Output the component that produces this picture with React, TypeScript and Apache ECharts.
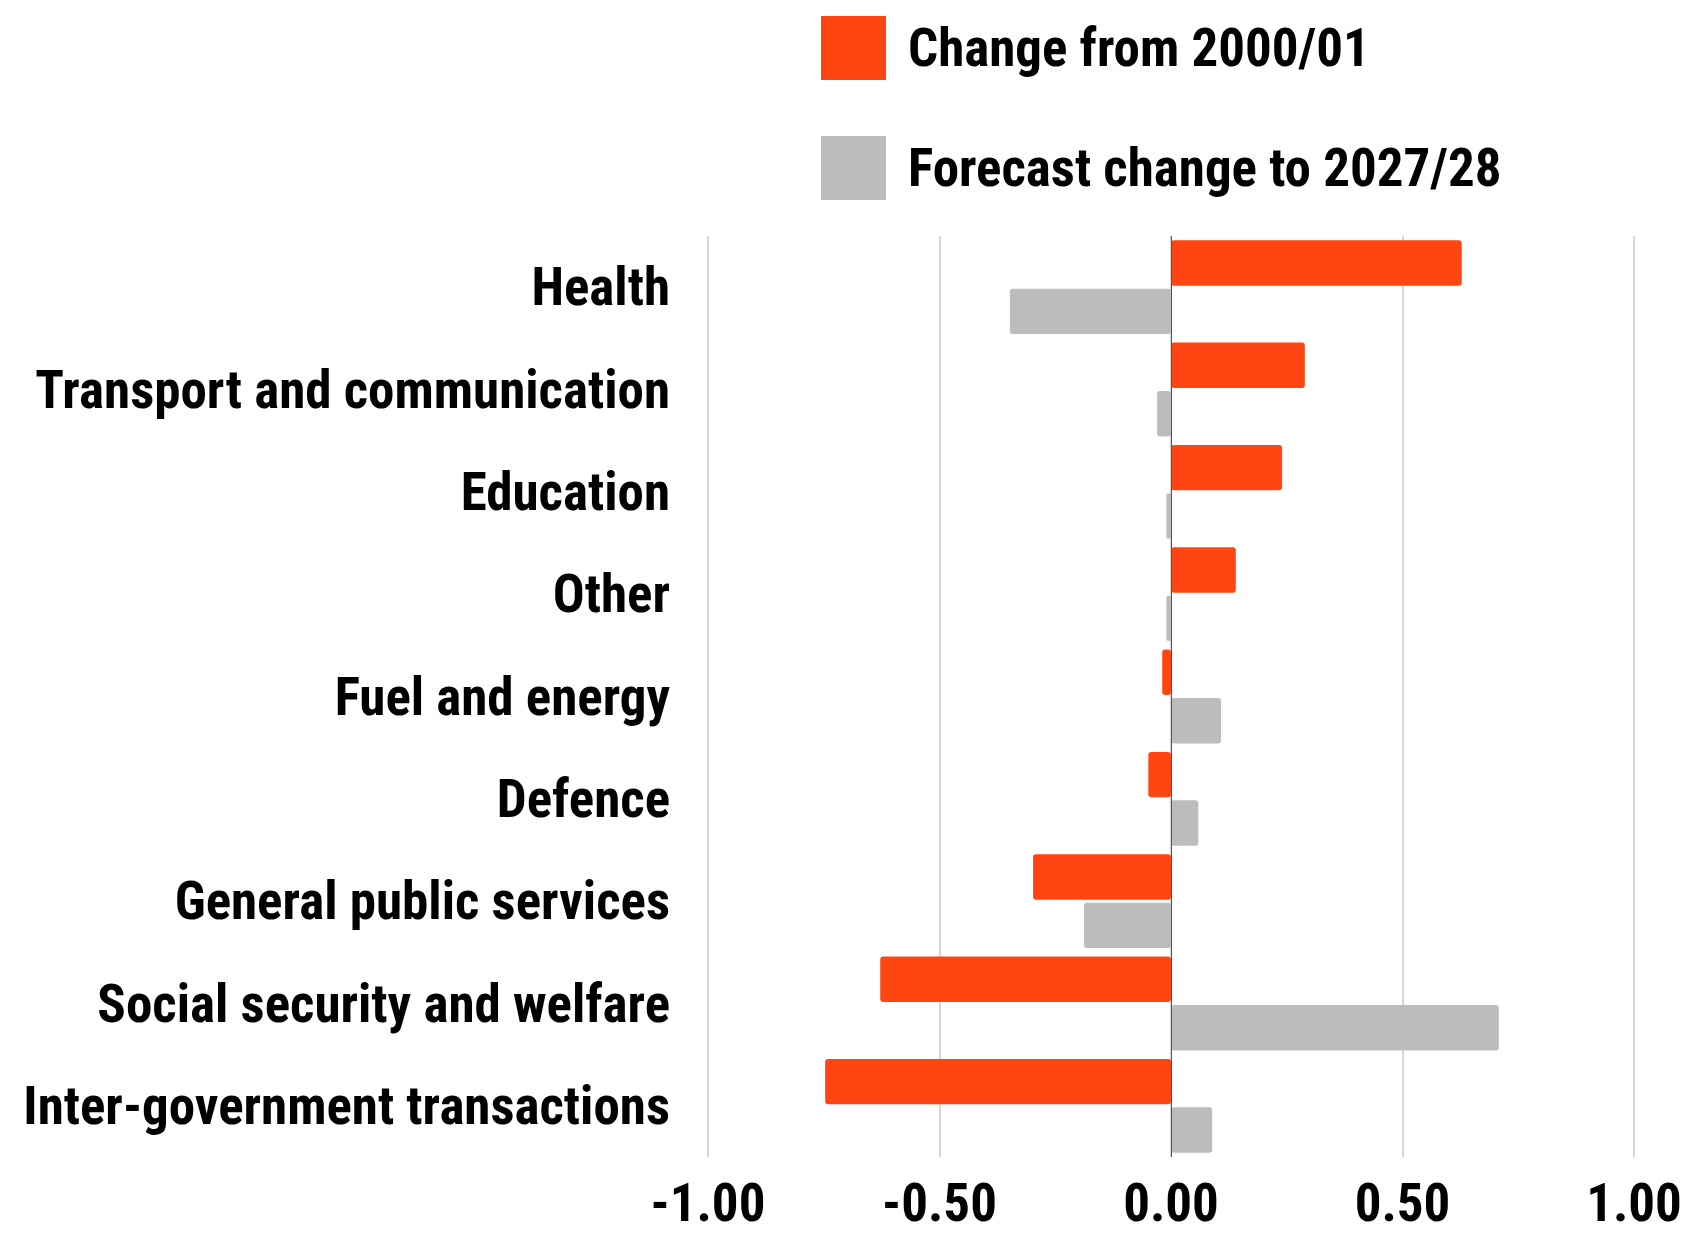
import React, { useEffect, useRef } from "react";
import * as echarts from "echarts";

const categories = [
  "Health",
  "Transport and communication",
  "Education",
  "Other",
  "Fuel and energy",
  "Defence",
  "General public services",
  "Social security and welfare",
  "Inter-government transactions",
];
const changeFrom2000 = [0.628, 0.289, 0.24, 0.14, -0.019, -0.049, -0.298, -0.628, -0.747];
const forecastTo2028 = [-0.348, -0.03, -0.01, -0.01, 0.108, 0.059, -0.188, 0.708, 0.089];
const xTicks = { min: -1, max: 1, interval: 0.5 };

const FONT = "'Roboto Condensed', 'Liberation Sans Narrow', 'DejaVu Sans Condensed', sans-serif";
const WEIGHT = "bold";
const FS = 53;
const RED = "#FF4612";
const GREY = "#BDBCBC";

export default function App() {
  const ref = useRef<HTMLDivElement>(null);
  useEffect(() => {
    if (!ref.current) return;
    const chart = echarts.init(ref.current, undefined, { renderer: "svg" });
    chart.setOption({
      animation: false,
      backgroundColor: "#ffffff",
      textStyle: { fontFamily: FONT },
      legend: {
        left: 821,
        top: 16,
        padding: 0,
        orient: "vertical",
        itemWidth: 65,
        itemHeight: 64,
        itemGap: 56,
        icon: "rect",
        selectedMode: false,
        textStyle: {
          fontFamily: FONT,
          fontWeight: WEIGHT,
          fontSize: FS,
          color: "#000",
          padding: [0, 0, 10, 17],
        },
        data: ["Change from 2000/01", "Forecast change to 2027/28"],
      },
      grid: {
        left: 708,
        right: 56,
        top: 236,
        bottom: 76,
        outerBoundsMode: "none",
      },
      xAxis: {
        type: "value",
        min: xTicks.min,
        max: xTicks.max,
        interval: xTicks.interval,
        axisLine: { show: false },
        axisTick: { show: false },
        splitLine: { show: true, lineStyle: { color: "#C8C8C8", width: 1.5 } },
        axisLabel: {
          fontFamily: FONT,
          fontWeight: WEIGHT,
          fontSize: FS,
          color: "#000",
          margin: 19,
          formatter: (v: number) => v.toFixed(2),
        },
      },
      yAxis: {
        type: "category",
        data: categories,
        inverse: true,
        axisLine: { show: false, onZero: false },
        axisTick: { show: false },
        axisLabel: {
          fontFamily: FONT,
          fontWeight: WEIGHT,
          fontSize: FS,
          color: "#000",
          margin: 38,
          padding: [0, 0, 7, 0],
        },
      },
      series: [
        {
          name: "Change from 2000/01",
          type: "bar",
          data: changeFrom2000,
          itemStyle: { color: RED, borderRadius: 3 },
          barGap: "6.6%",
          barCategoryGap: "8.3%",
          markLine: {
            silent: true,
            symbol: "none",
            label: { show: false },
            lineStyle: { color: "#555", width: 1, type: "solid" },
            data: [{ xAxis: 0 }],
            z: 5,
          },
        },
        {
          name: "Forecast change to 2027/28",
          type: "bar",
          data: forecastTo2028,
          itemStyle: { color: GREY, borderRadius: 3 },
          barGap: "6.6%",
          barCategoryGap: "8.3%",
        },
      ],
    });
    return () => chart.dispose();
  }, []);
  return (
    <div
      ref={ref}
      style={{ position: "fixed", left: 0, top: 0, width: 1690, height: 1233 }}
    />
  );
}
